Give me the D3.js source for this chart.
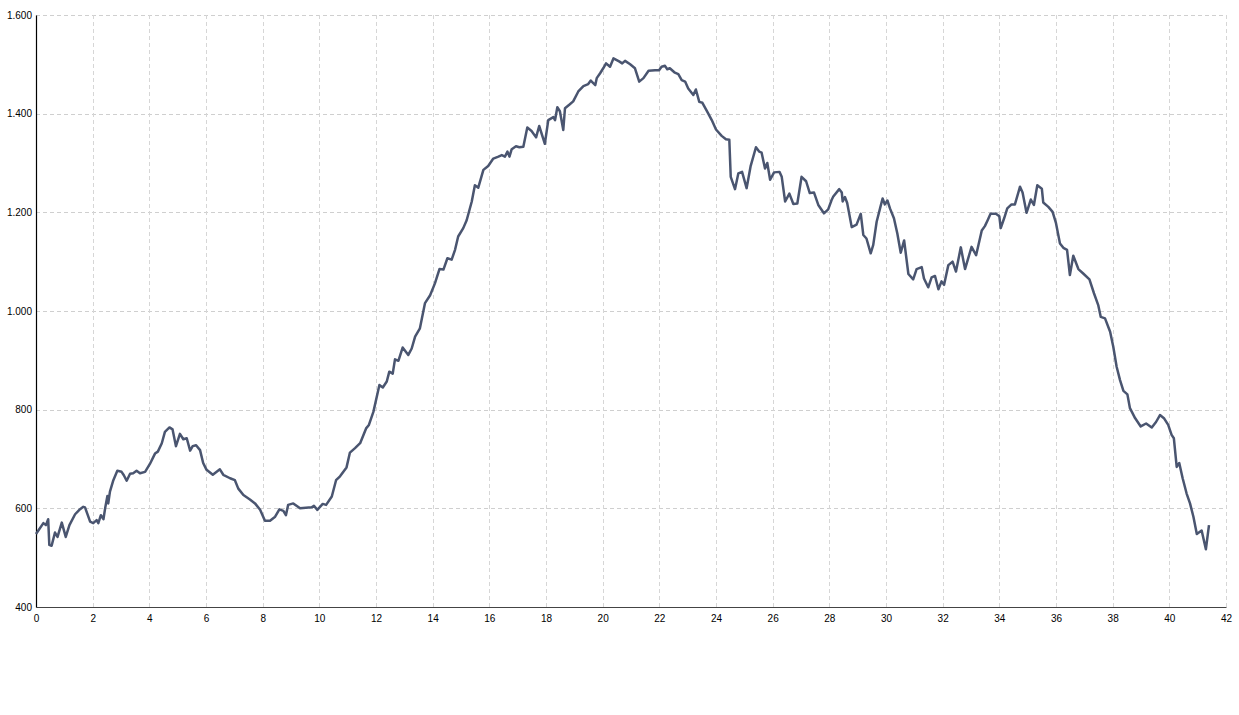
<!DOCTYPE html>
<html>
<head>
<meta charset="utf-8">
<script src="https://cdn.jsdelivr.net/npm/d3@7"></script>
<style>
  body { margin: 0; background: #fff; }
  .tick text { font-family: "Liberation Sans", Arial, sans-serif; font-size: 10px; fill: #000; }
</style>
</head>
<body>
<div id="chart"></div>
<script>
// distance (km) along the route
var distances = [
  0, 0.26, 0.35, 0.43, 0.47, 0.55, 0.67, 0.76, 0.91, 1.05, 1.18, 1.38, 1.53, 1.67, 1.73, 1.91,
  2.02, 2.14, 2.2, 2.29, 2.38, 2.44, 2.52, 2.55, 2.61, 2.73, 2.87, 3.02, 3.1, 3.2, 3.32, 3.43,
  3.55, 3.67, 3.85, 4.02, 4.2, 4.3, 4.44, 4.55, 4.71, 4.82, 4.94, 5.08, 5.2, 5.32, 5.44, 5.53,
  5.65, 5.79, 5.9, 6.02, 6.24, 6.49, 6.61, 6.85, 7.02, 7.14, 7.32, 7.55, 7.73, 7.91, 8.08, 8.26,
  8.44, 8.59, 8.73, 8.82, 8.9, 9.08, 9.32, 9.73, 9.81, 9.93, 10.12, 10.24, 10.44, 10.59, 10.73,
  10.96, 11.08, 11.26, 11.44, 11.65, 11.75, 11.91, 12.12, 12.24, 12.38, 12.47, 12.59, 12.67,
  12.79, 12.94, 13.14, 13.26, 13.38, 13.55, 13.73, 13.91, 14.08, 14.24, 14.38, 14.52, 14.67,
  14.79, 14.9, 15.08, 15.2, 15.38, 15.49, 15.61, 15.79, 15.96, 16.14, 16.32, 16.44, 16.55,
  16.64, 16.71, 16.79, 16.94, 17.06, 17.2, 17.34, 17.49, 17.65, 17.76, 17.96, 18.08, 18.26,
  18.32, 18.4, 18.49, 18.61, 18.67, 18.82, 18.96, 19.14, 19.32, 19.49, 19.58, 19.65, 19.74,
  19.79, 19.91, 20.02, 20.12, 20.26, 20.38, 20.58, 20.69, 20.79, 20.97, 21.14, 21.29, 21.44,
  21.62, 21.85, 21.99, 22.08, 22.2, 22.28, 22.37, 22.55, 22.67, 22.79, 22.91, 23.02, 23.2,
  23.29, 23.41, 23.52, 23.69, 23.85, 24.0, 24.2, 24.35, 24.47, 24.52, 24.67, 24.79, 24.92,
  25.08, 25.22, 25.41, 25.53, 25.61, 25.73, 25.81, 25.91, 26.05, 26.24, 26.32, 26.44, 26.59,
  26.73, 26.87, 27.02, 27.18, 27.31, 27.46, 27.61, 27.81, 27.96, 28.08, 28.14, 28.35, 28.44,
  28.47, 28.55, 28.63, 28.79, 28.96, 29.11, 29.2, 29.31, 29.46, 29.55, 29.67, 29.79, 29.88,
  29.96, 30.05, 30.14, 30.28, 30.4, 30.52, 30.64, 30.79, 30.96, 31.08, 31.26, 31.34, 31.49,
  31.61, 31.73, 31.85, 31.96, 32.05, 32.2, 32.35, 32.47, 32.64, 32.79, 33.02, 33.18, 33.38,
  33.49, 33.58, 33.69, 33.88, 34.0, 34.05, 34.17, 34.28, 34.43, 34.55, 34.73, 34.82, 34.96,
  35.11, 35.22, 35.34, 35.5, 35.55, 35.73, 35.88, 36.0, 36.14, 36.26, 36.39, 36.49, 36.61,
  36.79, 36.96, 37.18, 37.34, 37.49, 37.58, 37.73, 37.91, 38.02, 38.14, 38.26, 38.38, 38.52,
  38.61, 38.79, 38.99, 39.18, 39.38, 39.53, 39.67, 39.82, 39.96, 40.08, 40.16, 40.26, 40.35,
  40.47, 40.61, 40.73, 40.85, 40.97, 41.14, 41.29, 41.4
];

// elevation (m)
var elevations = [
  548, 570, 566, 578, 526, 524, 551, 542, 571, 542, 566, 588, 597, 603, 602, 573,
  570, 576, 570, 586, 578, 600, 625, 610, 634, 657, 676, 674, 667, 656, 670, 671,
  676, 671, 674, 690, 711, 715, 732, 755, 764, 760, 726, 751, 740, 742, 717, 726,
  728, 718, 692, 678, 668, 679, 668, 661, 657, 640, 627, 618, 610, 597, 575, 575,
  583, 598, 595, 586, 607, 610, 600, 602, 605, 597, 609, 607, 624, 657, 665,
  683, 713, 722, 732, 762, 769, 796, 850, 845, 857, 877, 873, 902,
  899, 926, 911, 924, 948, 965, 1016, 1032, 1056, 1085, 1084, 1107, 1104,
  1124, 1151, 1168, 1184, 1222, 1255, 1250, 1286, 1294, 1309, 1313, 1316, 1313,
  1323, 1313, 1328, 1334, 1332, 1333, 1372, 1365, 1352, 1375, 1339, 1387, 1393,
  1387, 1413, 1405, 1367, 1411, 1418, 1425, 1445, 1456, 1460, 1467, 1463, 1458,
  1472, 1482, 1492, 1502, 1495, 1512, 1506, 1502, 1507, 1500, 1492, 1465, 1472,
  1487, 1488, 1488, 1495, 1497, 1490, 1492, 1483, 1480, 1468, 1465, 1451, 1438,
  1449, 1424, 1422, 1404, 1387, 1368, 1355, 1348, 1347, 1272, 1247, 1279, 1282,
  1249, 1293, 1332, 1323, 1321, 1289, 1300, 1266, 1281, 1282, 1272, 1222, 1238,
  1217, 1218, 1272, 1263, 1239, 1240, 1215, 1198, 1206, 1225, 1232, 1247, 1240,
  1222, 1231, 1219, 1170, 1175, 1197, 1154, 1147, 1117, 1134, 1181, 1208, 1228,
  1216, 1224, 1208, 1188, 1157, 1118, 1143, 1075, 1064, 1085, 1089, 1066, 1048,
  1068, 1071, 1044, 1060, 1053, 1093, 1100, 1080, 1129, 1085, 1130, 1113, 1163,
  1172, 1183, 1197, 1197, 1192, 1168, 1188, 1208, 1216, 1216, 1252, 1240, 1199,
  1226, 1215, 1255, 1248, 1220, 1211, 1201, 1178, 1137, 1128, 1124, 1073, 1112,
  1085, 1076, 1064, 1036, 1012, 988, 985, 958, 928, 887, 860, 838, 831,
  803, 783, 766, 772, 764, 775, 789, 782, 769, 749, 742, 684, 692,
  661, 630, 610, 583, 548, 555, 517, 566
];

var xTicks = d3.range(0, 43, 2);
var yTicks = [400, 600, 800, 1000, 1200, 1400, 1600];

var svgWidth = 1239;
var svgHeight = 715;

var margin = { top: 15, right: 13, bottom: 108, left: 36 };
var width = svgWidth - margin.left - margin.right;
var height = svgHeight - margin.top - margin.bottom;

var svg = d3.select("#chart")
    .append("svg")
    .attr("width", svgWidth)
    .attr("height", svgHeight);

var chartGroup = svg.append("g")
    .attr("transform", `translate(${margin.left}, ${margin.top})`);

var xScale = d3.scaleLinear().domain([0, 42]).range([0, width]);
var yScale = d3.scaleLinear().domain([400, 1600]).range([height, 0]);

// german style thousands separator
var de = d3.formatLocale({ decimal: ",", thousands: ".", grouping: [3], currency: ["", "€"] });
var fmt = de.format(",");

// grid lines
chartGroup.append("g")
    .selectAll("line")
    .data(yTicks.slice(1))
    .enter()
    .append("line")
    .attr("x1", 0)
    .attr("x2", width)
    .attr("y1", d => Math.round(yScale(d)) + 0.5)
    .attr("y2", d => Math.round(yScale(d)) + 0.5)
    .attr("stroke", "#cfcfcf")
    .attr("stroke-dasharray", "4,3");

chartGroup.append("g")
    .selectAll("line")
    .data(xTicks.slice(1))
    .enter()
    .append("line")
    .attr("x1", d => Math.round(xScale(d)) + 0.5)
    .attr("x2", d => Math.round(xScale(d)) + 0.5)
    .attr("y1", 0)
    .attr("y2", height)
    .attr("stroke", "#d6d6d6")
    .attr("stroke-dasharray", "4,3");

// axes
var bottomAxis = d3.axisBottom(xScale).tickValues(xTicks).tickSize(0).tickPadding(8);
var leftAxis = d3.axisLeft(yScale).tickValues(yTicks).tickSize(0).tickPadding(4).tickFormat(fmt);

var xAxisG = chartGroup.append("g")
    .attr("transform", `translate(0, ${height})`)
    .call(bottomAxis);
xAxisG.select(".domain").attr("stroke", "#444").attr("stroke-width", 1.2);

var yAxisG = chartGroup.append("g")
    .call(leftAxis);
yAxisG.select(".domain").attr("stroke", "#000").attr("stroke-width", 1.2);

// elevation line
var points = distances.map((d, i) => [d, elevations[i]]);

var line = d3.line()
    .x(d => xScale(d[0]))
    .y(d => yScale(d[1]));

chartGroup.append("path")
    .datum(points)
    .attr("fill", "none")
    .attr("stroke", "#4a5570")
    .attr("stroke-width", 2.5)
    .attr("stroke-linejoin", "round")
    .attr("d", line);
</script>
</body>
</html>
